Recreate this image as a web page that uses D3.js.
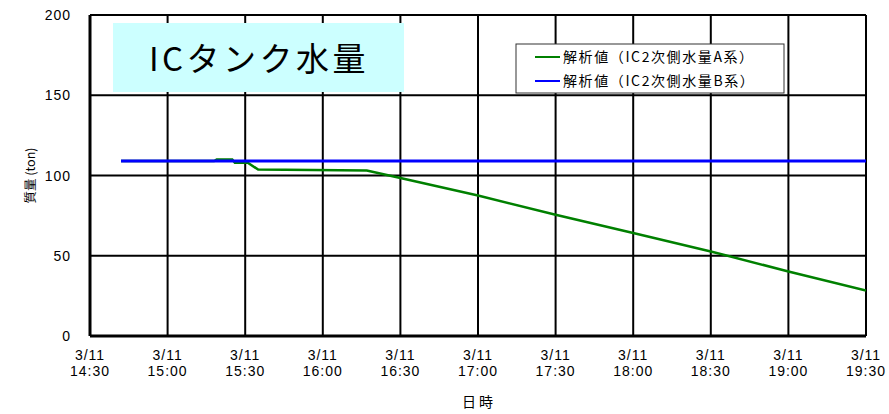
<!DOCTYPE html>
<meta charset="utf-8">
<style>
  body { margin: 0; background: #fff; }
  text { font-family: "Noto Sans CJK JP", "Liberation Sans", sans-serif; fill: #000; }
  text.num { font-family: "Liberation Sans", "Noto Sans CJK JP", sans-serif; }
</style>
<script src="https://d3js.org/d3.v7.min.js"></script>
<div id="my_dataviz"></div>
<script>
// Data (time as HH:MM on 3/11)
var tickTimes = ["14:30","15:00","15:30","16:00","16:30","17:00","17:30","18:00","18:30","19:00","19:30"];
var yTicks = [0, 50, 100, 150, 200];

var seriesNames = ["解析値（IC2次側水量A系）", "解析値（IC2次側水量B系）"];
var seriesColors = ["#008000", "#0000ff"];

var greenTimes  = ["14:42","15:18","15:19","15:25","15:26","15:31","15:35","16:17","16:30","17:00","17:30","18:00","18:30","19:00","19:30"];
var greenValues = [109, 109, 110, 110, 108, 108, 103.7, 103.1, 98.5, 87.5, 75.6, 64.2, 52.7, 40.2, 28.3];

var blueTimes  = ["14:42","19:30"];
var blueValues = [109, 109];

var margin = {top: 15, right: 23, bottom: 78, left: 90},
    width = 889 - margin.left - margin.right,
    height = 414 - margin.top - margin.bottom;

var parse = function(s) { var p = s.split(":"); return new Date(2011, 2, 11, +p[0], +p[1]); };

var svg = d3.select("#my_dataviz")
  .append("svg")
    .attr("width", 889)
    .attr("height", 414)
  .append("g")
    .attr("transform", "translate(" + margin.left + "," + margin.top + ")");

var x = d3.scaleTime()
  .domain([parse("14:30"), parse("19:30")])
  .range([0, width]);

var y = d3.scaleLinear()
  .domain([0, 200])
  .range([height, 0]);

svg.append("clipPath").attr("id", "plotclip")
  .append("rect").attr("width", width).attr("height", height);

// grid lines
svg.selectAll("vgrid")
  .data(tickTimes)
  .enter()
  .append("line")
    .attr("x1", function(d) { return x(parse(d)); })
    .attr("x2", function(d) { return x(parse(d)); })
    .attr("y1", 0)
    .attr("y2", height)
    .attr("stroke", "black")
    .attr("stroke-width", 2);

svg.selectAll("hgrid")
  .data(yTicks)
  .enter()
  .append("line")
    .attr("x1", 0)
    .attr("x2", width)
    .attr("y1", function(d) { return y(d); })
    .attr("y2", function(d) { return y(d); })
    .attr("stroke", "black")
    .attr("stroke-width", 2);

// thicker left/bottom axis lines
svg.append("line").attr("x1", 0).attr("x2", 0).attr("y1", 0).attr("y2", height)
  .attr("stroke", "black").attr("stroke-width", 3);
svg.append("line").attr("x1", 0).attr("x2", width).attr("y1", height).attr("y2", height)
  .attr("stroke", "black").attr("stroke-width", 3);

// title box
svg.append("rect")
  .attr("x", 23).attr("y", 8)
  .attr("width", 291).attr("height", 69)
  .attr("fill", "#ccffff");
svg.append("text")
  .attr("x", 169).attr("y", 56)
  .attr("text-anchor", "middle")
  .style("font-size", "33px")
  .style("letter-spacing", "3.5px")
  .text("ICタンク水量");

// lines
var line = d3.line()
  .x(function(d) { return x(parse(d[0])); })
  .y(function(d) { return y(d[1]); });

var plot = svg.append("g").attr("clip-path", "url(#plotclip)");

plot.append("path")
  .datum(greenTimes.map(function(t, i) { return [t, greenValues[i]]; }))
  .attr("d", line)
  .attr("fill", "none")
  .attr("stroke", seriesColors[0])
  .attr("stroke-width", 2.5);

plot.append("path")
  .datum(blueTimes.map(function(t, i) { return [t, blueValues[i]]; }))
  .attr("d", line)
  .attr("fill", "none")
  .attr("stroke", seriesColors[1])
  .attr("stroke-width", 3);

// legend
var legend = svg.append("g").attr("transform", "translate(426,29)");
legend.append("rect")
  .attr("width", 268).attr("height", 49)
  .attr("fill", "white")
  .attr("stroke", "#333")
  .attr("stroke-width", 1);
seriesNames.forEach(function(name, i) {
  legend.append("line")
    .attr("x1", 19).attr("x2", 44)
    .attr("y1", 13 + i * 24).attr("y2", 13 + i * 24)
    .attr("stroke", seriesColors[i]).attr("stroke-width", 2);
  legend.append("text")
    .attr("x", 47).attr("y", 18 + i * 24)
    .style("font-size", "14px")
    .style("letter-spacing", "1.6px")
    .text(name);
});

// y tick labels
svg.selectAll("ylab")
  .data(yTicks)
  .enter()
  .append("text")
    .attr("class", "num")
    .attr("x", -19)
    .attr("y", function(d) { return y(d) + 5; })
    .attr("text-anchor", "end")
    .style("font-size", "14px")
    .style("letter-spacing", "1px")
    .text(function(d) { return d; });

// x tick labels (two rows)
svg.selectAll("xlab1")
  .data(tickTimes)
  .enter()
  .append("text")
    .attr("class", "num")
    .attr("x", function(d) { return x(parse(d)); })
    .attr("y", height + 24)
    .attr("text-anchor", "middle")
    .style("font-size", "14px")
    .style("letter-spacing", "1px")
    .text("3/11");

svg.selectAll("xlab2")
  .data(tickTimes)
  .enter()
  .append("text")
    .attr("class", "num")
    .attr("x", function(d) { return x(parse(d)); })
    .attr("y", height + 40)
    .attr("text-anchor", "middle")
    .style("font-size", "14px")
    .style("letter-spacing", "1px")
    .text(function(d) { return d; });

// axis titles
svg.append("text")
  .attr("x", 389).attr("y", height + 71)
  .attr("text-anchor", "middle")
  .style("font-size", "14px")
  .style("letter-spacing", "3px")
  .text("日時");

svg.append("text")
  .attr("transform", "translate(-55," + y(100) + ")rotate(-90)")
  .attr("text-anchor", "middle")
  .style("font-size", "12.5px")
  .text("質量 (ton)");
</script>
